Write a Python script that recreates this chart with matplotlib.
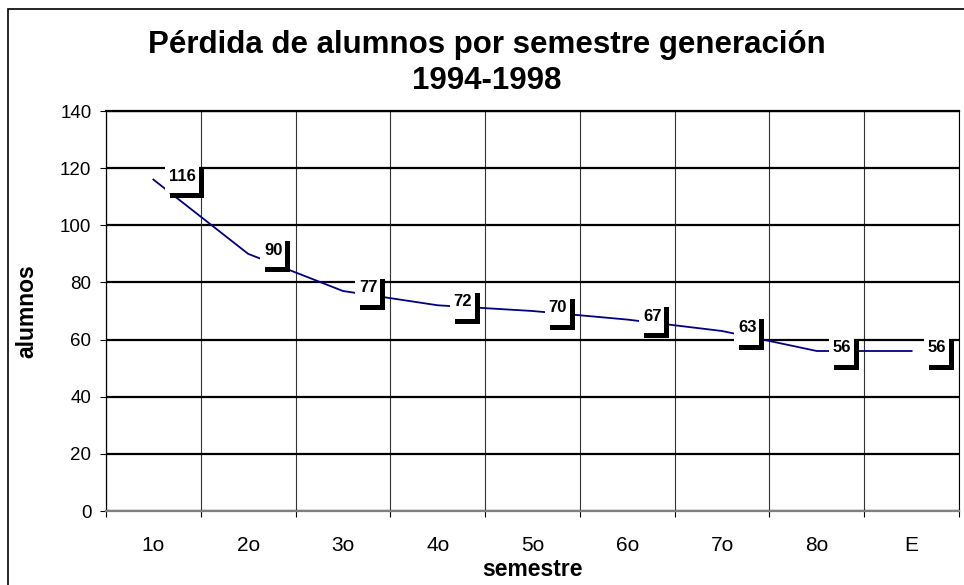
import matplotlib.pyplot as plt
from matplotlib.patches import Rectangle
from matplotlib.transforms import ScaledTranslation
import numpy as np

plt.rcParams['font.family'] = ['Liberation Sans', 'DejaVu Sans']

semestres = ['1o', '2o', '3o', '4o', '5o', '6o', '7o', '8o', 'E']
alumnos = [116, 90, 77, 72, 70, 67, 63, 56, 56]

fig = plt.figure(figsize=(9.64, 5.85), dpi=100)
ax = fig.add_axes([106/964, 74/585, 853/964, 400/585])

x = np.arange(len(semestres))
ax.plot(x, alumnos, color='#000080', lw=1.3, zorder=3)

ax.set_xlim(-0.5, len(semestres) - 0.5)
ax.set_ylim(0, 140)
ax.set_yticks(range(0, 141, 20))
ax.set_xticks(x)
ax.set_xticklabels(semestres)
ax.set_xticks(np.arange(-0.5, len(semestres), 1), minor=True)

ax.tick_params(axis='y', length=4.5, width=0.8, pad=6, labelsize=13.5)
ax.tick_params(axis='x', which='major', length=0, pad=18, labelsize=15)
ax.tick_params(axis='x', which='minor', length=4.5, width=0.8)

ax.grid(axis='y', which='major', color='black', lw=1.6, zorder=1)
ax.grid(axis='x', which='minor', color='#333333', lw=0.8, zorder=1)
ax.set_axisbelow(True)

ax.spines['bottom'].set_color('#808080')
ax.spines['bottom'].set_linewidth(1.6)
ax.spines['left'].set_linewidth(0.9)
ax.spines['right'].set_linewidth(0.8)
ax.spines['top'].set_linewidth(1.6)

ax.set_xlabel('semestre', fontsize=16.5, fontweight='bold', labelpad=2)
ax.set_ylabel('alumnos', fontsize=16.5, fontweight='bold')
ax.yaxis.set_label_coords(-68/853, 0.5)

# etiquetas de datos con sombra, al estilo de Excel
px = 1 / 100
for xi, yi in zip(x, alumnos):
    trans = fig.dpi_scale_trans + ScaledTranslation(xi, yi, ax.transData)
    txt = str(yi)
    w = 8.5 * len(txt) + 8
    ax.add_patch(Rectangle((17*px, -18.5*px), w*px, 31*px, facecolor='black',
                           edgecolor='none', transform=trans, zorder=4, clip_on=False))
    ax.add_patch(Rectangle((12*px, -13.5*px), w*px, 31*px, facecolor='white',
                           edgecolor='none', transform=trans, zorder=5, clip_on=False))
    ax.text(16*px, 3.5*px, txt, transform=trans, ha='left', va='center',
            fontsize=12, fontweight='bold', zorder=6)

fig.text(487/964, 1 - 63/585, 'Pérdida de alumnos por semestre generación\n1994-1998',
         ha='center', va='center', fontsize=22.5, fontweight='bold', linespacing=1.22)

# marco exterior
fig.patches.append(Rectangle((8/964, -0.1), 1.2, 0.1 + 1 - 9/585, transform=fig.transFigure,
                             facecolor='none', edgecolor='black', lw=1.2))

fig.savefig('out.png', dpi=100)
